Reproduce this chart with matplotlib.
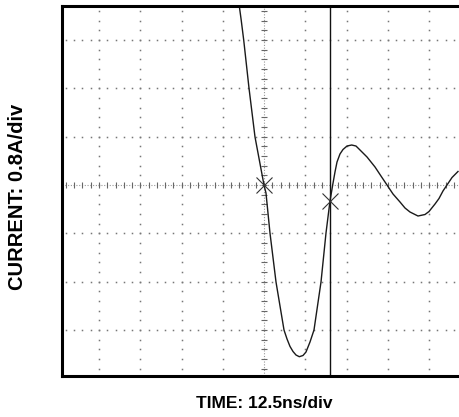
import numpy as np
import matplotlib
matplotlib.use("Agg")
import matplotlib.pyplot as plt

# Waveform (time in divisions from centre, current in divisions)
time_div = [-0.618, -0.599, -0.553, -0.492, -0.364, -0.218, -0.109, 0.0, 0.048, 0.145, 0.291,
            0.485, 0.558, 0.630, 0.703, 0.776, 0.856, 0.945, 1.018, 1.115, 1.212, 1.382,
            1.503, 1.600, 1.665, 1.721, 1.770, 1.842, 1.915, 2.012, 2.126, 2.230, 2.327,
            2.497, 2.691, 2.836, 2.982, 3.127, 3.297, 3.418, 3.539, 3.733, 3.903, 4.000,
            4.145, 4.242, 4.339, 4.436, 4.558, 4.703]
current_div = [3.830, 3.706, 3.416, 3.002, 2.008, 0.994, 0.497, 0.0, -0.166, -0.994, -2.008,
               -3.002, -3.188, -3.342, -3.447, -3.520, -3.555, -3.530, -3.458, -3.251, -3.002, -2.008,
               -0.994, -0.331, 0.0, 0.269, 0.476, 0.642, 0.735, 0.807, 0.828, 0.807, 0.725,
               0.580, 0.373, 0.186, 0.0, -0.186, -0.352, -0.476, -0.559, -0.642, -0.611, -0.549,
               -0.394, -0.280, -0.124, 0.0, 0.155, 0.280]
marker_t = [0.0, 1.600]
marker_i = [0.0, -0.331]
cursor_t = 1.600

x_label = "TIME: 12.5ns/div"
y_label = "CURRENT: 0.8A/div"

W, H = 459, 417
fig = plt.figure(figsize=(W / 100, H / 100), dpi=100)
left, right, bottom, top = 62, 459, 376, 6
ax = fig.add_axes([left / W, 1 - bottom / H, (right - left) / W, (bottom - top) / H])
cx, cy, dx, dy = 264, 185, 41.25, 48.3
ax.set_xlim((left - cx) / dx, (right - cx) / dx)
ax.set_ylim((cy - bottom) / dy, (cy - top) / dy)
ax.set_xticks([]); ax.set_yticks([])
for s in ["left", "top", "bottom"]:
    ax.spines[s].set_linewidth(2.2)
    ax.spines[s].set_color("black")
ax.spines["right"].set_visible(False)

# dotted graticule
fine = np.arange(-25, 26) * 0.2
for gx in [-4, -3, -2, -1, 1, 2, 3, 4]:
    ax.plot(np.full_like(fine, gx), fine, ls="none", marker="s", ms=1.1, mew=0,
            color="#777777", clip_on=True)
for gy in [-3, -2, -1, 1, 2, 3]:
    ax.plot(fine, np.full_like(fine, gy), ls="none", marker="s", ms=1.1, mew=0,
            color="#777777", clip_on=True)

# centre axes with minor ticks
ax.axhline(0, color="#999999", lw=0.8, ls=(0, (1, 1.5)))
ax.axvline(0, color="#999999", lw=0.8, ls=(0, (1, 1.5)))
ax.plot(fine, np.zeros_like(fine), ls="none", marker="|", ms=5, mew=0.8, color="#666666")
ax.plot(np.zeros_like(fine), fine, ls="none", marker="_", ms=5, mew=0.8, color="#666666")

# cursor
ax.axvline(cursor_t, color="#111111", lw=1.0)

# waveform
ax.plot(time_div, current_div, color="#1a1a1a", lw=1.0, solid_joinstyle="round")
ax.plot(marker_t, marker_i, ls="none", marker="x", ms=11, mew=0.8, color="#333333")

fig.text(17.5 / W, 1 - 197 / H, y_label, rotation=90, ha="center", va="center",
         fontsize=14.5, fontweight="bold", family="Liberation Sans")
fig.text(264 / W, 1 - 404 / H, x_label, ha="center", va="center",
         fontsize=12.5, fontweight="bold", family="Liberation Sans")

fig.savefig("out.png", dpi=100)
